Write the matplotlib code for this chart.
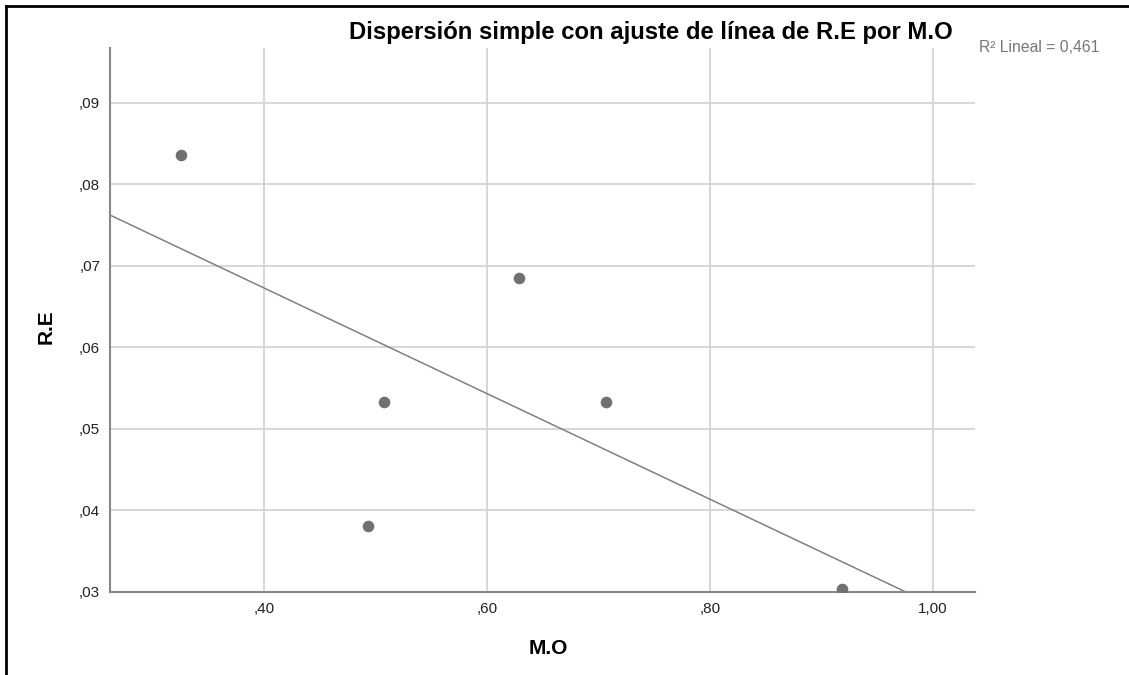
import matplotlib
matplotlib.use("Agg")
import matplotlib.pyplot as plt
import numpy as np

plt.rcParams['font.family'] = ['Liberation Sans', 'DejaVu Sans']

# M.O vs R.E observations
mo = [0.326, 0.493, 0.508, 0.629, 0.707, 0.918]
re = [0.0836, 0.0381, 0.0533, 0.0685, 0.0533, 0.0304]
r2_text = "R² Lineal = 0,461"

x_ticks = [0.40, 0.60, 0.80, 1.00]
x_labels = [",40", ",60", ",80", "1,00"]
y_ticks = [0.03, 0.04, 0.05, 0.06, 0.07, 0.08, 0.09]
y_labels = [",03", ",04", ",05", ",06", ",07", ",08", ",09"]

fig = plt.figure(figsize=(11.29, 6.75), dpi=100)
ax = fig.add_axes([0.0974, 0.123, 0.7662, 0.8059])

ax.set_xlim(0.262, 1.0377)
ax.set_ylim(0.03, 0.0967)

# grid
ax.set_axisbelow(True)
ax.grid(True, color="#d4d4d4", linewidth=1.3)

ax.scatter(mo, re, s=70, color="#707070", zorder=3, linewidths=0)

# least squares fit line
slope, intercept = np.polyfit(mo, re, 1)
xs = np.array([0.262, 1.0377])
ax.plot(xs, slope * xs + intercept, color="#808080", linewidth=1.1, zorder=2)

ax.set_xticks(x_ticks)
ax.set_xticklabels(x_labels)
ax.set_yticks(y_ticks)
ax.set_yticklabels(y_labels)
ax.tick_params(length=0, labelsize=11, pad=7, colors="#222222")

for s in ["top", "right"]:
    ax.spines[s].set_visible(False)
for s in ["left", "bottom"]:
    ax.spines[s].set_color("#888888")
    ax.spines[s].set_linewidth(1.5)

fig.text(46 / 1129, 1 - 327 / 675, "R.E", rotation=90, fontsize=15, fontweight="bold",
         ha="center", va="center")
fig.text(548 / 1129, 1 - 648 / 675, "M.O", fontsize=15, fontweight="bold",
         ha="center", va="center")
fig.text(651 / 1129, 1 - 33 / 675, "Dispersión simple con ajuste de línea de R.E por M.O",
         fontsize=17.2, fontweight="bold", ha="center", va="center")
fig.text(979 / 1129, 1 - 48 / 675, r2_text, fontsize=11.3, color="#777777",
         ha="left", va="center")

# outer frame lines on left and top
fig.add_artist(plt.Line2D([6 / 1129, 6 / 1129], [0, 1 - 6 / 675], color="black",
                          linewidth=2, transform=fig.transFigure))
fig.add_artist(plt.Line2D([6 / 1129, 1], [1 - 6 / 675, 1 - 6 / 675], color="black",
                          linewidth=2, transform=fig.transFigure))

fig.savefig("out.png", dpi=100)
